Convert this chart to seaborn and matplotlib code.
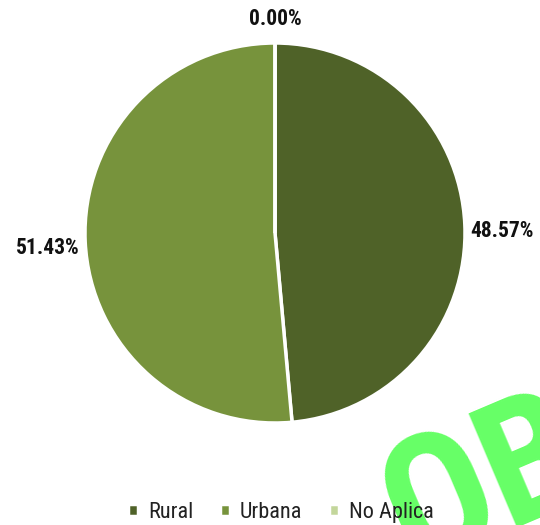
import numpy as np
import matplotlib
matplotlib.use("Agg")
import matplotlib.pyplot as plt
import seaborn as sns

# data
categories = ["Rural", "Urbana", "No Aplica"]
shares = [48.57, 51.43, 0.00]
colors = ["#4F6228", "#77933C", "#C3D69B"]

sns.set_style("white")
plt.rcParams["font.family"] = ["Roboto Condensed", "Archivo Narrow", "Liberation Sans", "DejaVu Sans"]

W, H = 540, 525
fig = plt.figure(figsize=(W / 100, H / 100), dpi=100)
ax = fig.add_axes([0, 0, 1, 1])
ax.patch.set_visible(False)

# pie centre / radius in pixels
cx, cy, rad = 275, 233, 190

wedges, _ = ax.pie(shares, colors=colors, startangle=90, counterclock=False,
                   wedgeprops=dict(edgecolor="white", linewidth=2.5))
ax.set_xlim(-cx / rad, (W - cx) / rad)
ax.set_ylim(-(H - cy) / rad, cy / rad)
ax.set_aspect("auto")
ax.axis("off")

# percent labels just outside each wedge
for w, v in zip(wedges, shares):
    ang = np.deg2rad((w.theta1 + w.theta2) / 2)
    x, y = np.cos(ang), np.sin(ang)
    ha = "left" if x > 0.3 else ("right" if x < -0.3 else "center")
    va = "bottom" if y > 0.7 else "center_baseline"
    ax.text(1.03 * x, 1.07 * y if va == "bottom" else 1.03 * y - 0.02, f"{v:.2f}%",
            ha=ha, va=va, fontsize=15.5, fontweight="bold", color="#111111")

fig.legend(wedges, categories, loc="center", bbox_to_anchor=(0.52, 0.024),
           ncol=3, frameon=False, fontsize=16, handlelength=0.45, handleheight=0.45,
           handletextpad=0.45, columnspacing=1.2, labelcolor="#222222")

# watermark (partly outside the figure, like the reference)
fig.text(0.762, -0.085, "OBSOLETO", fontsize=125, fontweight="bold",
         family="Roboto Condensed", color="#66FF66", rotation=23,
         rotation_mode="anchor", ha="left", va="baseline", zorder=-5)

fig.savefig("out.png", dpi=100)
